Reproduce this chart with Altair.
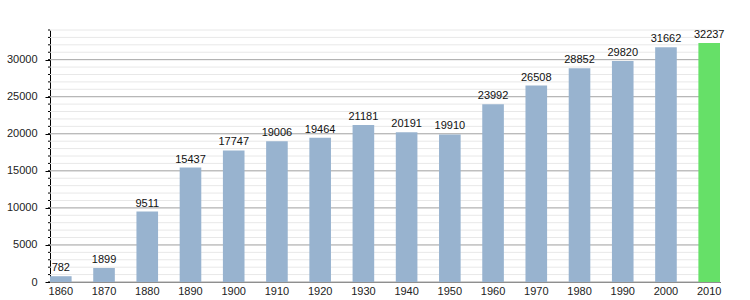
import altair as alt
import pandas as pd

years = ["1860", "1870", "1880", "1890", "1900", "1910", "1920", "1930",
         "1940", "1950", "1960", "1970", "1980", "1990", "2000", "2010"]
population = [782, 1899, 9511, 15437, 17747, 19006, 19464, 21181,
              20191, 19910, 23992, 26508, 28852, 29820, 31662, 32237]
highlight = ["no"] * 15 + ["yes"]
major_ticks = [0, 5000, 10000, 15000, 20000, 25000, 30000]
minor_ticks = [v for v in range(0, 34001, 1000)]

df = pd.DataFrame({"year": years, "pop": population, "hl": highlight})
minor_df = pd.DataFrame({"pop": minor_ticks})
major_df = pd.DataFrame({"pop": major_ticks})

yscale = alt.Scale(domain=[0, 34000], nice=False, zero=True)
xscale = alt.Scale(paddingInner=0.5, paddingOuter=0)
yaxis = alt.Axis(values=major_ticks, grid=False, tickSize=5, format="d",
                 tickColor="#000", domainColor="#000",
                 labelFont="Liberation Sans", labelFontSize=11,
                 labelColor="#222", labelPadding=8)
Y = alt.Y("pop:Q", scale=yscale, title=None, axis=yaxis)

minor_grid = alt.Chart(minor_df).mark_rule(color="#e8e8e8", strokeWidth=1).encode(
    y=Y, x=alt.value(0), x2=alt.value(670))
minor_tick = alt.Chart(minor_df).mark_rule(color="#000", strokeWidth=1).encode(
    y=Y, x=alt.value(-2), x2=alt.value(0))
major_grid = alt.Chart(major_df).mark_rule(color="#aaaaaa", strokeWidth=1).encode(
    y=Y, x=alt.value(0), x2=alt.value(670))

bars = alt.Chart(df).mark_bar().encode(
    x=alt.X("year:N", scale=xscale, sort=years, title=None,
            axis=alt.Axis(labelAngle=0, ticks=False, domainColor="#000",
                          labelFont="Liberation Sans", labelFontSize=11,
                          labelColor="#222", labelPadding=3)),
    y=Y,
    color=alt.Color("hl:N", scale=alt.Scale(domain=["no", "yes"],
                                            range=["#98b3cf", "#66e068"]),
                    legend=None))

labels = alt.Chart(df).mark_text(baseline="bottom", dy=-3, font="Liberation Sans",
                                 fontSize=11, color="#111").encode(
    x=alt.X("year:N", scale=xscale, sort=years, bandPosition=0.5),
    y=Y,
    text="pop:Q")

chart = alt.layer(minor_grid, major_grid, minor_tick, bars, labels).properties(
    width=670, height=252,
    autosize=alt.AutoSizeParams(type="none"),
    padding={"left": 50, "top": 30, "right": 30, "bottom": 18},
    background="white"
).configure_view(stroke=None)

chart.save("out.html", embed_options={"renderer": "svg", "actions": False})
